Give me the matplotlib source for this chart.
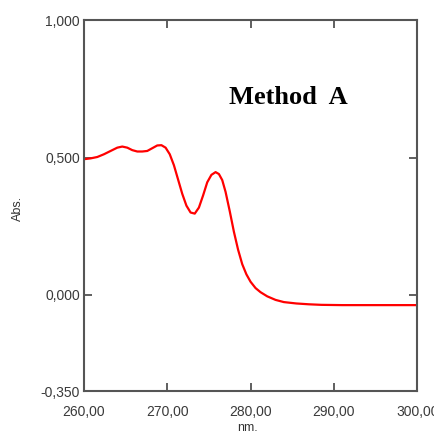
import numpy as np
import matplotlib.pyplot as plt

# spectrum (wavelength nm, absorbance)
wavelength = [260.0, 260.8, 261.6, 262.4, 263.2, 264.0, 264.6, 265.2, 265.8, 266.4,
              267.0, 267.6, 268.2, 268.8, 269.3, 269.8, 270.3, 270.8, 271.3, 271.8,
              272.3, 272.8, 273.3, 273.8, 274.3, 274.8, 275.3, 275.8, 276.2, 276.6,
              277.0, 277.5, 278.0, 278.5, 279.0, 279.5, 280.0, 280.6, 281.2, 282.0,
              283.0, 284.0, 285.5, 287.0, 288.5, 291.0, 294.0, 297.0, 300.0]
absorbance = [0.494, 0.497, 0.502, 0.512, 0.524, 0.536, 0.540, 0.536, 0.527, 0.522,
              0.522, 0.524, 0.534, 0.544, 0.545, 0.536, 0.512, 0.472, 0.420, 0.368,
              0.325, 0.300, 0.296, 0.318, 0.362, 0.410, 0.437, 0.447, 0.440, 0.418,
              0.375, 0.305, 0.230, 0.165, 0.112, 0.075, 0.048, 0.025, 0.010, -0.005,
              -0.018, -0.026, -0.031, -0.034, -0.036, -0.037, -0.037, -0.037, -0.037]

x_ticks = [260, 270, 280, 290, 300]
x_labels = ["260,00", "270,00", "280,00", "290,00", "300,00"]
y_ticks = [-0.35, 0.0, 0.5, 1.0]
y_labels = ["-0,350", "0,000", "0,500", "1,000"]

fig = plt.figure(figsize=(4.35, 4.38), dpi=100)
ax = fig.add_axes([0.193, 0.107, 0.766, 0.847])

ax.plot(wavelength, absorbance, color="red", lw=1.6)

ax.set_xlim(260, 300)
ax.set_ylim(-0.35, 1.0)

tick_font = dict(family="Liberation Sans", size=10, color="#3a3a3a")
ax.set_xticks(x_ticks)
ax.set_xticklabels(x_labels, **tick_font)
ax.set_yticks(y_ticks)
ax.set_yticklabels(y_labels, **tick_font)
ax.tick_params(direction="in", length=6, width=1.2, color="#444444",
               top=True, right=True)
ax.tick_params(axis="x", pad=10)
ax.tick_params(axis="y", pad=3)

for s in ax.spines.values():
    s.set_color("#555555")
    s.set_linewidth(1.5)

# axis titles placed where the reference has them
ax.text(0.49, -0.0997, "nm.", transform=ax.transAxes, ha="center", va="center",
        fontsize=9, family="Liberation Sans", color="#333333")
ax.text(-0.198, 0.493, "Abs.", transform=ax.transAxes, ha="center", va="center",
        rotation=90, fontsize=9, family="Liberation Sans", color="#333333")

ax.text(0.613, 0.792, "Method  A", transform=ax.transAxes, ha="center", va="center",
        fontsize=19, fontweight="bold", family="Liberation Serif", color="black")

fig.savefig("out.png", dpi=100)
